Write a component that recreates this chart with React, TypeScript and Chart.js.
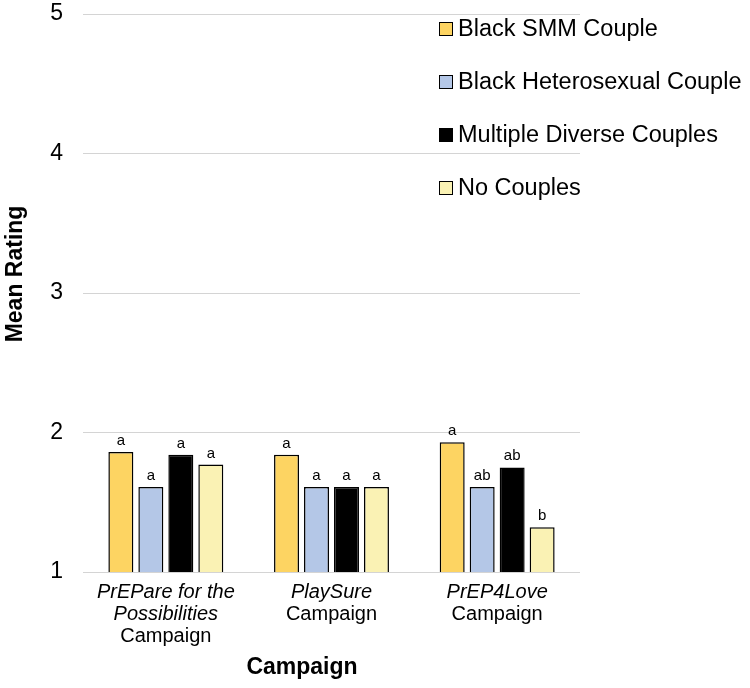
import React, { useEffect, useRef } from 'react';
import { Chart, registerables } from 'chart.js';

Chart.register(...registerables);

const campaignNameLines = [['PrEPare for the', 'Possibilities'], ['PlaySure'], ['PrEP4Love']];
const campaignSuffix = 'Campaign';
const categories = ['PrEPare for the Possibilities Campaign', 'PlaySure Campaign', 'PrEP4Love Campaign'];
const seriesNames = ['Black SMM Couple', 'Black Heterosexual Couple', 'Multiple Diverse Couples', 'No Couples'];
const blackSMM = [1.86, 1.84, 1.93];
const blackHetero = [1.61, 1.61, 1.61];
const multipleDiverse = [1.84, 1.61, 1.75];
const noCouples = [1.77, 1.61, 1.32];
const sigBlackSMM = ['a', 'a', 'a'];
const sigBlackHetero = ['a', 'a', 'ab'];
const sigMultiple = ['a', 'a', 'ab'];
const sigNoCouples = ['a', 'a', 'b'];
const seriesColors = ['#FDD462', '#B4C7E7', '#000000', '#FAF2B4'];
const yMin = 1;
const yMax = 5;
const yTitle = 'Mean Rating';
const xTitle = 'Campaign';

const FONT = "'Liberation Sans', Arial, Helvetica, sans-serif";

const customDraw = {
  id: 'customDraw',
  afterDraw(chart: any) {
    const ctx = chart.ctx;
    const sigs = [sigBlackSMM, sigBlackHetero, sigMultiple, sigNoCouples];
    ctx.save();
    // significance letters
    ctx.fillStyle = '#000';
    ctx.font = `15px ${FONT}`;
    ctx.textAlign = 'center';
    ctx.textBaseline = 'alphabetic';
    chart.data.datasets.forEach((ds: any, di: number) => {
      const meta = chart.getDatasetMeta(di);
      meta.data.forEach((bar: any, i: number) => {
        ctx.fillText(sigs[di][i], bar.x, bar.y - 7);
      });
    });
    // x category labels
    const xs = chart.scales.x;
    campaignNameLines.forEach((lines, i) => {
      const cx = xs.getPixelForValue(i);
      let y = 592;
      ctx.textBaseline = 'middle';
      ctx.font = `italic 20px ${FONT}`;
      lines.forEach((ln) => {
        ctx.fillText(ln, cx, y);
        y += 22;
      });
      ctx.font = `20px ${FONT}`;
      ctx.fillText(campaignSuffix, cx, y);
    });
    // x title
    ctx.font = `bold 23px ${FONT}`;
    ctx.fillText(xTitle, 302, 668);
    // y title
    ctx.save();
    ctx.translate(16, 274);
    ctx.rotate(-Math.PI / 2);
    ctx.font = `bold 23px ${FONT}`;
    ctx.fillText(yTitle, 0, 0);
    ctx.restore();
    // legend
    ctx.textAlign = 'left';
    ctx.font = `23.5px ${FONT}`;
    chart.data.datasets.forEach((ds: any, di: number) => {
      const cy = 29 + di * 53;
      ctx.fillStyle = ds.backgroundColor;
      ctx.fillRect(439.5, cy - 6.5, 13, 13);
      ctx.strokeStyle = '#000';
      ctx.lineWidth = 1;
      ctx.strokeRect(439.5, cy - 6.5, 13, 13);
      ctx.fillStyle = '#000';
      ctx.fillText(ds.label, 458, cy + 1);
    });
    ctx.restore();
  },
};

export default function App() {
  const ref = useRef<HTMLCanvasElement>(null);
  useEffect(() => {
    document.body.style.margin = '0';
    const series = [blackSMM, blackHetero, multipleDiverse, noCouples];
    const chart = new Chart(ref.current as HTMLCanvasElement, {
      type: 'bar',
      data: {
        labels: categories,
        datasets: series.map((d, i) => ({
          label: seriesNames[i],
          data: d,
          backgroundColor: seriesColors[i],
          borderColor: '#000',
          borderWidth: 1.5,
          categoryPercentage: 0.724,
          barPercentage: 0.833,
        })),
      },
      options: {
        animation: false,
        responsive: false,
        devicePixelRatio: 1,
        layout: { padding: { top: 14, right: 170, left: 0, bottom: 0 } },
        plugins: { legend: { display: false }, tooltip: { enabled: false } },
        scales: {
          x: {
            grid: { display: false },
            border: { display: false },
            ticks: { color: 'rgba(0,0,0,0)', callback: () => '' },
            afterFit: (s: any) => { s.height = 116; s.paddingLeft = 0; s.paddingRight = 0; },
          },
          y: {
            min: yMin,
            max: yMax,
            ticks: { stepSize: 1, color: '#000', font: { family: FONT, size: 23 }, padding: 20 },
            grid: { color: '#d4d4d4', drawTicks: false, lineWidth: 1 },
            border: { display: false },
            afterFit: (s: any) => { s.width = 83; s.paddingTop = 0; s.paddingBottom = 0; },
          },
        },
      },
      plugins: [customDraw],
    });
    return () => chart.destroy();
  }, []);
  return (
    <div style={{ width: 750, height: 688 }}>
      <canvas ref={ref} width={750} height={688} />
    </div>
  );
}
